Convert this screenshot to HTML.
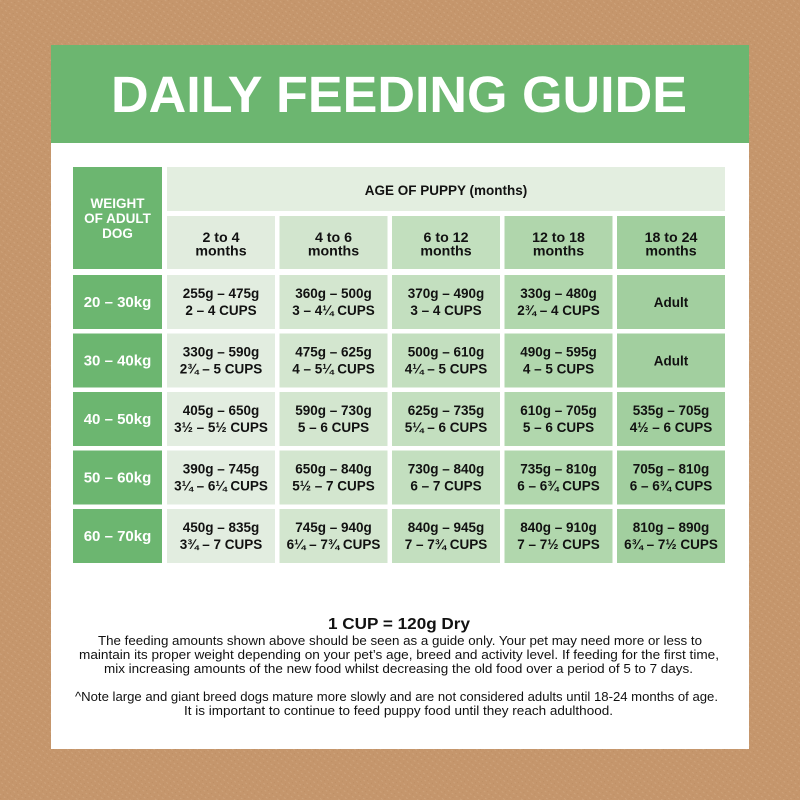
<!DOCTYPE html>
<html><head><meta charset="utf-8"><style>
html,body{margin:0;padding:0;width:800px;height:800px;overflow:hidden;background:#c4966b;}
svg{display:block;}
.t{font-family:"Liberation Sans",sans-serif;font-weight:bold;}
.b{font-family:"Liberation Sans",sans-serif;}
</style></head><body>
<svg width="800" height="800" viewBox="0 0 800 800" xmlns="http://www.w3.org/2000/svg">
<defs>
<pattern id="tx" width="5" height="5" patternUnits="userSpaceOnUse" patternTransform="rotate(35)">
<rect width="5" height="5" fill="#c5966c"/>
<rect width="2" height="1" fill="#cda27a"/>
<rect x="3" y="3" width="1" height="1" fill="#bd8e64"/>
</pattern>
</defs>
<rect width="800" height="800" fill="url(#tx)"/>
<rect x="51" y="45" width="698" height="704" fill="#ffffff"/>
<rect x="51" y="45" width="698" height="98" fill="#6cb670"/>
<text class="t" x="111" y="112" font-size="51" fill="#ffffff" textLength="576" lengthAdjust="spacingAndGlyphs">DAILY FEEDING GUIDE</text>

<!-- left header -->
<rect x="73" y="167" width="89" height="102" fill="#6cb670"/>
<g class="t" font-size="13.5" fill="#ffffff" text-anchor="middle">
<text x="117.5" y="208">WEIGHT</text>
<text x="117.5" y="223">OF ADULT</text>
<text x="117.5" y="238">DOG</text>
</g>
<!-- top header -->
<rect x="167" y="167" width="558" height="44" fill="#e3eee0"/>
<text class="t" x="446" y="195" font-size="13.5" fill="#111" text-anchor="middle">AGE OF PUPPY (months)</text>

<!-- sub headers -->
<rect x="167" y="216" width="108" height="53" fill="#e1ecde"/>
<rect x="279.5" y="216" width="108" height="53" fill="#d2e5ce"/>
<rect x="392" y="216" width="108" height="53" fill="#c2dfbe"/>
<rect x="504.5" y="216" width="108" height="53" fill="#b0d6ac"/>
<rect x="617" y="216" width="108" height="53" fill="#a1cf9e"/>
<g class="t" font-size="14.2" fill="#111" text-anchor="middle">
<text x="221" y="242">2 to 4</text><text x="221" y="255.5">months</text>
<text x="333.5" y="242">4 to 6</text><text x="333.5" y="255.5">months</text>
<text x="446" y="242">6 to 12</text><text x="446" y="255.5">months</text>
<text x="558.5" y="242">12 to 18</text><text x="558.5" y="255.5">months</text>
<text x="671" y="242">18 to 24</text><text x="671" y="255.5">months</text>
</g>

<!-- rows -->
<g>
<rect x="73" y="275" width="89" height="54" fill="#6cb670"/>
<rect x="73" y="333.5" width="89" height="54" fill="#6cb670"/>
<rect x="73" y="392" width="89" height="54" fill="#6cb670"/>
<rect x="73" y="450.5" width="89" height="54" fill="#6cb670"/>
<rect x="73" y="509" width="89" height="54" fill="#6cb670"/>
</g>
<g class="t" font-size="15" fill="#ffffff" text-anchor="middle">
<text x="117.5" y="307">20 – 30kg</text>
<text x="117.5" y="365.5">30 – 40kg</text>
<text x="117.5" y="424">40 – 50kg</text>
<text x="117.5" y="482.5">50 – 60kg</text>
<text x="117.5" y="541">60 – 70kg</text>
</g>

<g>
<rect x="167" y="275" width="108" height="54" fill="#e2ede0"/>
<rect x="167" y="333.5" width="108" height="54" fill="#e2ede0"/>
<rect x="167" y="392" width="108" height="54" fill="#e2ede0"/>
<rect x="167" y="450.5" width="108" height="54" fill="#e2ede0"/>
<rect x="167" y="509" width="108" height="54" fill="#e2ede0"/>
<rect x="279.5" y="275" width="108" height="54" fill="#d3e6cf"/>
<rect x="279.5" y="333.5" width="108" height="54" fill="#d3e6cf"/>
<rect x="279.5" y="392" width="108" height="54" fill="#d3e6cf"/>
<rect x="279.5" y="450.5" width="108" height="54" fill="#d3e6cf"/>
<rect x="279.5" y="509" width="108" height="54" fill="#d3e6cf"/>
<rect x="392" y="275" width="108" height="54" fill="#c3dfbf"/>
<rect x="392" y="333.5" width="108" height="54" fill="#c3dfbf"/>
<rect x="392" y="392" width="108" height="54" fill="#c3dfbf"/>
<rect x="392" y="450.5" width="108" height="54" fill="#c3dfbf"/>
<rect x="392" y="509" width="108" height="54" fill="#c3dfbf"/>
<rect x="504.5" y="275" width="108" height="54" fill="#b1d7ad"/>
<rect x="504.5" y="333.5" width="108" height="54" fill="#b1d7ad"/>
<rect x="504.5" y="392" width="108" height="54" fill="#b1d7ad"/>
<rect x="504.5" y="450.5" width="108" height="54" fill="#b1d7ad"/>
<rect x="504.5" y="509" width="108" height="54" fill="#b1d7ad"/>
<rect x="617" y="275" width="108" height="54" fill="#a2cf9f"/>
<rect x="617" y="333.5" width="108" height="54" fill="#a2cf9f"/>
<rect x="617" y="392" width="108" height="54" fill="#a2cf9f"/>
<rect x="617" y="450.5" width="108" height="54" fill="#a2cf9f"/>
<rect x="617" y="509" width="108" height="54" fill="#a2cf9f"/>
</g>

<g class="t" font-size="13.5" fill="#111" text-anchor="middle">
<text x="221" y="298">255g – 475g</text><text x="221" y="315">2 – 4 CUPS</text>
<text x="333.5" y="298">360g – 500g</text><text x="333.5" y="315">3 – 4¼ CUPS</text>
<text x="446" y="298">370g – 490g</text><text x="446" y="315">3 – 4 CUPS</text>
<text x="558.5" y="298">330g – 480g</text><text x="558.5" y="315">2¾ – 4 CUPS</text>
<text x="671" y="307">Adult</text>
<text x="221" y="356.5">330g – 590g</text><text x="221" y="373.5">2¾ – 5 CUPS</text>
<text x="333.5" y="356.5">475g – 625g</text><text x="333.5" y="373.5">4 – 5¼ CUPS</text>
<text x="446" y="356.5">500g – 610g</text><text x="446" y="373.5">4¼ – 5 CUPS</text>
<text x="558.5" y="356.5">490g – 595g</text><text x="558.5" y="373.5">4 – 5 CUPS</text>
<text x="671" y="365.5">Adult</text>
<text x="221" y="415">405g – 650g</text><text x="221" y="432">3½ – 5½ CUPS</text>
<text x="333.5" y="415">590g – 730g</text><text x="333.5" y="432">5 – 6 CUPS</text>
<text x="446" y="415">625g – 735g</text><text x="446" y="432">5¼ – 6 CUPS</text>
<text x="558.5" y="415">610g – 705g</text><text x="558.5" y="432">5 – 6 CUPS</text>
<text x="671" y="415">535g – 705g</text><text x="671" y="432">4½ – 6 CUPS</text>
<text x="221" y="473.5">390g – 745g</text><text x="221" y="490.5">3¼ – 6¼ CUPS</text>
<text x="333.5" y="473.5">650g – 840g</text><text x="333.5" y="490.5">5½ – 7 CUPS</text>
<text x="446" y="473.5">730g – 840g</text><text x="446" y="490.5">6 – 7 CUPS</text>
<text x="558.5" y="473.5">735g – 810g</text><text x="558.5" y="490.5">6 – 6¾ CUPS</text>
<text x="671" y="473.5">705g – 810g</text><text x="671" y="490.5">6 – 6¾ CUPS</text>
<text x="221" y="532">450g – 835g</text><text x="221" y="549">3¾ – 7 CUPS</text>
<text x="333.5" y="532">745g – 940g</text><text x="333.5" y="549">6¼ – 7¾ CUPS</text>
<text x="446" y="532">840g – 945g</text><text x="446" y="549">7 – 7¾ CUPS</text>
<text x="558.5" y="532">840g – 910g</text><text x="558.5" y="549">7 – 7½ CUPS</text>
<text x="671" y="532">810g – 890g</text><text x="671" y="549">6¾ – 7½ CUPS</text>
</g>

<text class="t" x="328" y="629" font-size="16" fill="#111" textLength="142" lengthAdjust="spacingAndGlyphs">1 CUP = 120g Dry</text>
<g class="b" font-size="12.8" fill="#111">
<text x="98" y="645" textLength="604" lengthAdjust="spacingAndGlyphs">The feeding amounts shown above should be seen as a guide only. Your pet may need more or less to</text>
<text x="79" y="659" textLength="640" lengthAdjust="spacingAndGlyphs">maintain its proper weight depending on your pet’s age, breed and activity level. If feeding for the first time,</text>
<text x="104" y="673" textLength="589" lengthAdjust="spacingAndGlyphs">mix increasing amounts of the new food whilst decreasing the old food over a period of 5 to 7 days.</text>
<text x="75" y="701" textLength="643" lengthAdjust="spacingAndGlyphs">^Note large and giant breed dogs mature more slowly and are not considered adults until 18-24 months of age.</text>
<text x="184" y="715" textLength="429" lengthAdjust="spacingAndGlyphs">It is important to continue to feed puppy food until they reach adulthood.</text>
</g>
</svg>
</body></html>
